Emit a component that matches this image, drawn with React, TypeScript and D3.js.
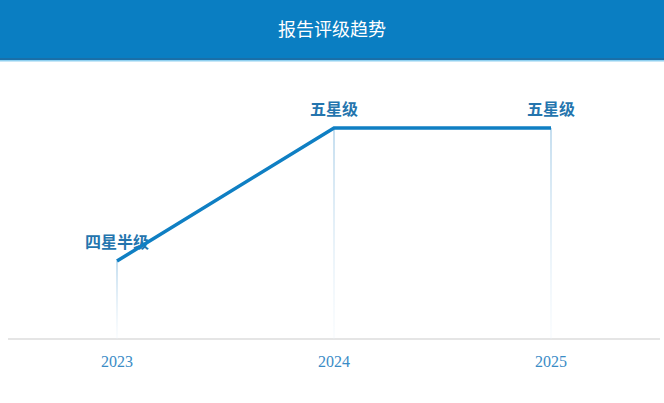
import React, { useRef, useEffect } from 'react';
import * as d3 from 'd3';

// Chart data
const years = ['2023', '2024', '2025'];
const ratingValues = [4.5, 5, 5];
const ratingLabels = ['四星半级', '五星级', '五星级'];
const chartTitle = '报告评级趋势';

const WIDTH = 664;
const HEIGHT = 403;

/**
 * Line chart showing the report rating trend per year
 */
const App: React.FC = () => {
  const svgRef = useRef<SVGSVGElement>(null);

  useEffect(() => {
    const svg = d3.select(svgRef.current);
    svg.selectAll('*').remove();

    const serif = '"Liberation Serif", "Noto Sans CJK SC", serif';
    const axisY = 339;

    // Header band
    svg.append('rect')
      .attr('x', 0)
      .attr('y', 0)
      .attr('width', WIDTH)
      .attr('height', 60)
      .attr('fill', '#0a7ec2');
    svg.append('rect')
      .attr('x', 0)
      .attr('y', 58)
      .attr('width', WIDTH)
      .attr('height', 2)
      .attr('fill', '#1a6fa8');
    svg.append('rect')
      .attr('x', 0)
      .attr('y', 60)
      .attr('width', WIDTH)
      .attr('height', 1.5)
      .attr('fill', '#8fd0f0');

    svg.append('text')
      .attr('x', WIDTH / 2)
      .attr('y', 31)
      .attr('text-anchor', 'middle')
      .attr('dominant-baseline', 'middle')
      .style('font-family', '"Noto Sans CJK SC", sans-serif')
      .style('font-size', '18px')
      .style('fill', '#ffffff')
      .text(chartTitle);

    // Scales
    const xScale = d3.scalePoint<string>()
      .domain(years)
      .range([117, 551]);

    const yScale = d3.scaleLinear()
      .domain([4.5, 5])
      .range([261, 128]);

    // Gradient for drop lines
    const defs = svg.append('defs');
    const grad = defs.append('linearGradient')
      .attr('id', 'dropGrad')
      .attr('x1', 0).attr('y1', 0)
      .attr('x2', 0).attr('y2', 1);
    grad.append('stop').attr('offset', '0%').attr('stop-color', '#7fb6dc').attr('stop-opacity', 0.9);
    grad.append('stop').attr('offset', '100%').attr('stop-color', '#e8f2fa').attr('stop-opacity', 0.4);

    const data = years.map((year, i) => ({
      year,
      value: ratingValues[i],
      label: ratingLabels[i]
    }));

    // Baseline axis
    svg.append('line')
      .attr('x1', 8)
      .attr('x2', 660)
      .attr('y1', axisY)
      .attr('y2', axisY)
      .attr('stroke', '#dcdcdc')
      .attr('stroke-width', 1.5);

    // Drop lines
    svg.selectAll('.drop')
      .data(data)
      .enter()
      .append('rect')
      .attr('class', 'drop')
      .attr('x', d => (xScale(d.year) || 0) - 0.5)
      .attr('y', d => yScale(d.value))
      .attr('width', 1)
      .attr('height', d => axisY - yScale(d.value))
      .attr('fill', 'url(#dropGrad)');

    // Rating labels (drawn under the line, as in the original)
    svg.selectAll('.rating-label')
      .data(data)
      .enter()
      .append('text')
      .attr('class', 'rating-label')
      .attr('x', d => xScale(d.year) || 0)
      .attr('y', d => yScale(d.value) - 13)
      .attr('text-anchor', 'middle')
      .style('font-family', '"Noto Sans CJK SC", sans-serif')
      .style('font-size', '16px')
      .style('font-weight', '600')
      .style('fill', '#2475ae')
      .text(d => d.label);

    // Trend line
    const line = d3.line<{ year: string; value: number }>()
      .x(d => xScale(d.year) || 0)
      .y(d => yScale(d.value));

    svg.append('path')
      .datum(data)
      .attr('fill', 'none')
      .attr('stroke', '#0f7fc3')
      .attr('stroke-width', 3.5)
      .attr('stroke-linejoin', 'miter')
      .attr('d', line);

    // Year labels
    svg.selectAll('.year-label')
      .data(data)
      .enter()
      .append('text')
      .attr('class', 'year-label')
      .attr('x', d => xScale(d.year) || 0)
      .attr('y', 367)
      .attr('text-anchor', 'middle')
      .style('font-family', serif)
      .style('font-size', '16px')
      .style('fill', '#3a8cc6')
      .text(d => d.year);
  }, []);

  return (
    <div style={{ position: 'absolute', left: 0, top: 0 }}>
      <svg ref={svgRef} width={WIDTH} height={HEIGHT} style={{ display: 'block', background: '#fff' }} />
    </div>
  );
};

export default App;
